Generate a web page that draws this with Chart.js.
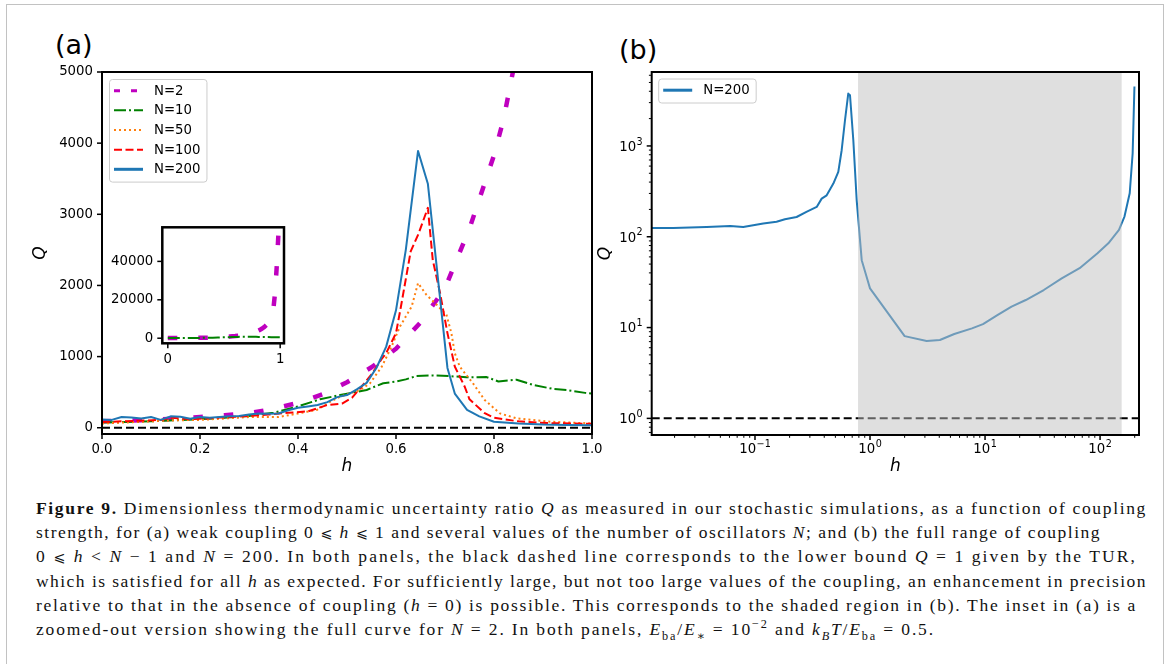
<!DOCTYPE html>
<html><head><meta charset="utf-8">
<script src="https://cdn.jsdelivr.net/npm/chart.js@4.4.1/dist/chart.umd.min.js"></script>
<style>
html,body{margin:0;padding:0;background:#fff;}
body{width:1167px;height:664px;position:relative;overflow:hidden;font-family:"DejaVu Sans",sans-serif;}
#frame{position:absolute;left:6px;top:4px;width:1158px;height:720px;box-sizing:border-box;border:1.5px solid #c2c2c2;}
canvas{position:absolute;}
.plab{position:absolute;font-family:"DejaVu Sans";font-size:27px;line-height:27px;color:#000;}
#cap{position:absolute;left:36px;top:496px;font-family:"Liberation Serif","DejaVu Serif",serif;font-size:17.5px;color:#111;}
.ln{position:absolute;left:0;white-space:nowrap;line-height:24.2px;height:24.2px;}
.ln sub,.ln sup{font-size:0.7em;line-height:0;}
.m{font-family:"DejaVu Sans";font-size:0.82em;}
</style></head>
<body>
<div id="frame"></div>
<div class="plab" style="left:55px;top:30.7px">(a)</div>
<div class="plab" style="left:619px;top:35.7px">(b)</div>
<canvas id="ca" width="590" height="430" style="left:30px;top:60px"></canvas>
<canvas id="cb" width="555" height="430" style="left:595px;top:60px"></canvas>
<canvas id="ci" width="200" height="160" style="left:95px;top:215px"></canvas>
<div id="cap">
<div class="ln" style="top:0px"><b>Figure 9.</b> Dimensionless thermodynamic uncertainty ratio <i>Q</i> as measured in our stochastic simulations, as a function of coupling</div>
<div class="ln" style="top:24.2px">strength, for (a) weak coupling 0 <span class="m">⩽</span> <i>h</i> <span class="m">⩽</span> 1 and several values of the number of oscillators <i>N</i>; and (b) the full range of coupling</div>
<div class="ln" style="top:48.4px">0 <span class="m">⩽</span> <i>h</i> &lt; <i>N</i> − 1 and <i>N</i> = 200. In both panels, the black dashed line corresponds to the lower bound <i>Q</i> = 1 given by the TUR,</div>
<div class="ln" style="top:72.6px">which is satisfied for all <i>h</i> as expected. For sufficiently large, but not too large values of the coupling, an enhancement in precision</div>
<div class="ln" style="top:96.8px">relative to that in the absence of coupling (<i>h</i> = 0) is possible. This corresponds to the shaded region in (b). The inset in (a) is a</div>
<div class="ln" style="top:121px">zoomed-out version showing the full curve for <i>N</i> = 2. In both panels, <i>E</i><sub>ba</sub>/<i>E</i><sub>∗</sub> = 10<sup>−2</sup> and <i>k<sub>B</sub>T</i>/<i>E</i><sub>ba</sub> = 0.5.</div>
</div>
<script>
// ---------------- data ----------------
// Panel (a): Q vs h, weak coupling
const hN2   = [0, 0.05, 0.1, 0.15, 0.2, 0.25, 0.3, 0.35, 0.4, 0.45, 0.5, 0.55, 0.6, 0.65, 0.7, 0.75, 0.8, 0.82, 0.84, 0.86, 0.88, 0.9, 0.92, 0.94, 0.955, 0.97, 0.985];
const qN2   = [90, 100, 110, 130, 150, 175, 205, 265, 350, 470, 640, 850, 1110, 1480, 1960, 2800, 3830, 4350, 5050, 5900, 7000, 8600, 11000, 15500, 24000, 38000, 55000];

const hN10  = [0, 0.05, 0.1, 0.15, 0.2, 0.25, 0.3, 0.35, 0.4, 0.445, 0.486, 0.54, 0.574, 0.6, 0.62, 0.642, 0.676, 0.71, 0.744, 0.785, 0.809, 0.846, 0.88, 0.921, 0.948, 0.986, 1.0];
const qN10  = [75, 80, 90, 105, 120, 140, 165, 210, 300, 400, 460, 531, 625, 650, 680, 728, 735, 725, 709, 712, 650, 675, 601, 545, 531, 490, 480];

const hN50  = [0, 0.05, 0.1, 0.15, 0.2, 0.25, 0.3, 0.36, 0.4, 0.418, 0.438, 0.466, 0.486, 0.527, 0.547, 0.571, 0.591, 0.608, 0.632, 0.645, 0.662, 0.683, 0.703, 0.713, 0.72, 0.73, 0.757, 0.781, 0.812, 0.846, 0.914, 1.0];
const qN50  = [60, 75, 90, 105, 110, 130, 150, 150, 200, 225, 249, 366, 437, 531, 625, 859, 1141, 1422, 1704, 2033, 1869, 1728, 1587, 1330, 1048, 860, 625, 390, 202, 132, 85, 60];

const hN100 = [0, 0.04, 0.08, 0.12, 0.14, 0.18, 0.22, 0.26, 0.3, 0.34, 0.38, 0.42, 0.46, 0.49, 0.51, 0.53, 0.55, 0.57, 0.58, 0.6, 0.61, 0.63, 0.645, 0.665, 0.675, 0.69, 0.705, 0.72, 0.74, 0.75, 0.78, 0.8, 0.85, 0.91, 1.0];
const qN100 = [80, 90, 100, 110, 140, 120, 135, 150, 165, 185, 210, 230, 320, 340, 420, 580, 750, 960, 1050, 1330, 1700, 2480, 2710, 3090, 2360, 1890, 1330, 860, 580, 400, 210, 140, 90, 65, 55];

const hN200 = [0, 0.02, 0.04, 0.06, 0.08, 0.1, 0.12, 0.14, 0.16, 0.18, 0.2, 0.22, 0.24, 0.26, 0.28, 0.3, 0.32, 0.34, 0.36, 0.38, 0.4, 0.42, 0.44, 0.46, 0.48, 0.5, 0.52, 0.54, 0.56, 0.58, 0.6, 0.62, 0.645, 0.665, 0.705, 0.72, 0.745, 0.77, 0.8, 0.85, 0.9, 0.95, 1.0];
const qN200 = [115, 110, 150, 145, 130, 150, 110, 160, 155, 125, 150, 140, 150, 160, 165, 185, 200, 195, 200, 245, 280, 300, 320, 360, 430, 460, 540, 630, 840, 1140, 1650, 2500, 3890, 3430, 840, 480, 250, 160, 85, 60, 45, 38, 35];

// Panel (b): N = 200, full range (log-log)
const hB = [0.0126, 0.0195, 0.038, 0.061, 0.079, 0.118, 0.154, 0.182, 0.23, 0.28, 0.344, 0.38, 0.42, 0.48, 0.53, 0.567, 0.606, 0.647, 0.67, 0.716, 0.766, 0.847, 0.935, 1.0, 2.0, 3.11, 4.05, 5.4, 7.7, 9.6, 12.8, 17, 22.6, 32.4, 46.4, 66.4, 95, 118, 146, 163, 181, 192, 199];
const qB = [125, 125, 128, 131, 128, 140, 146, 156, 165, 188, 213, 263, 286, 385, 517, 897, 1919, 3770, 3612, 1156, 252, 55.2, 36.1, 27, 8.05, 7.1, 7.3, 8.5, 9.8, 10.9, 13.7, 17, 20.1, 25.9, 34.8, 45, 65.8, 84.7, 119, 167, 301, 831, 4510];

// TUR lower bound Q = 1 (dashed black line)
const boundQ = [1, 1];
const boundHA = [0, 1];
const boundHB = [0.01265, 218];

// Shaded region in (b): enhancement in precision
const shadeRange = [0.787, 154];

// Axis ranges and ticks
const xRangeA = [0, 1],          yRangeA = [-88, 5000];
const xRangeI = [-0.049, 1.034], yRangeI = [-2650, 57750];
const xRangeB = [0.01265, 218],  yRangeB = [0.656, 6520];
const xTicksA = [0, 0.2, 0.4, 0.6, 0.8, 1.0];
const yTicksA = [0, 1000, 2000, 3000, 4000, 5000];
const xTicksI = [0, 1];
const yTicksI = [0, 20000, 40000];
const xMajorB = [0.01, 0.1, 1, 10, 100];
const yMajorB = [0.1, 1, 10, 100, 1000];
const expLabelsB = {'-1':'−1','0':'0','1':'1','2':'2','3':'3'};

// ---------------- helpers ----------------
const TF = 13.3; // tick / legend font size
Chart.defaults.font.family = '"DejaVu Sans"';
Chart.defaults.font.size = TF;
Chart.defaults.color = '#000';

function pts(hs, qs){ return hs.map((h,i)=>({x:h, y:qs[i]})); }
function ds(label, hs, qs, style){
  return Object.assign({label, data: pts(hs,qs), pointRadius:0, pointHoverRadius:0, tension:0, fill:false,
    borderCapStyle:'butt', borderJoinStyle:'round'}, style);
}
function logTicks(majors, lo, hi){
  const out = [];
  majors.forEach(m => {
    for (let k=1;k<10;k++){
      const v = +(m*k).toPrecision(6);
      if (v>=lo && v<=hi) out.push({value:v, minor:k!==1});
    }
  });
  return out;
}
function expOf(v){
  const e = Math.round(Math.log10(v));
  if (Math.abs(v - Math.pow(10,e)) > 1e-9*Math.pow(10,e)) return null;
  return expLabelsB[String(e)] || null;
}

// draws "10" with a raised exponent (matplotlib mathtext style)
function drawPow(ctx, exp, x, yMid, align){
  ctx.font = TF + 'px "DejaVu Sans"';
  const wb = ctx.measureText('10').width;
  ctx.font = '9.6px "DejaVu Sans"';
  const we = ctx.measureText(exp).width;
  const total = wb + we + 0.5;
  let x0 = align === 'center' ? x - total/2 : x - total;
  ctx.textBaseline = 'alphabetic'; ctx.textAlign = 'left'; ctx.fillStyle = '#000';
  ctx.font = TF + 'px "DejaVu Sans"';
  ctx.fillText('10', x0, yMid + 4.8);
  ctx.font = '9.6px "DejaVu Sans"';
  ctx.fillText(exp, x0 + wb + 0.5, yMid - 1.3);
}

const framePlugin = {
  id:'mplFrame',
  beforeDatasetsDraw(chart, args, o){
    if (!o.bg) return;
    const ca = chart.chartArea, ctx = chart.ctx;
    ctx.save(); ctx.fillStyle='#fff'; ctx.fillRect(ca.left, ca.top, ca.right-ca.left, ca.bottom-ca.top); ctx.restore();
  },
  afterDatasetsDraw(chart, args, o){
    const ctx = chart.ctx, ca = chart.chartArea, xs = chart.scales.x, ys = chart.scales.y;
    ctx.save();
    if (o.shade){
      const a = xs.getPixelForValue(o.shade[0]), b = xs.getPixelForValue(o.shade[1]);
      ctx.fillStyle = 'rgba(192,192,192,0.5)';
      ctx.fillRect(a, ca.top, b-a, ca.bottom-ca.top);
    }
    ctx.setLineDash([]);
    ctx.strokeStyle = '#000';
    ctx.lineWidth = o.lw;
    ctx.strokeRect(ca.left, ca.top, ca.right-ca.left, ca.bottom-ca.top);
    xs.ticks.forEach(t => {
      const p = xs.getPixelForValue(t.value);
      if (p < ca.left-1 || p > ca.right+1) return;
      ctx.lineWidth = t.minor ? 1 : 1.5;
      ctx.beginPath(); ctx.moveTo(p, ca.bottom); ctx.lineTo(p, ca.bottom + (t.minor ? 2.8 : 5)); ctx.stroke();
      if (o.powLabels && !t.minor){ const e = expOf(t.value); if (e !== null) drawPow(ctx, e, p, ca.bottom + 13, 'center'); }
    });
    ys.ticks.forEach(t => {
      const p = ys.getPixelForValue(t.value);
      if (p < ca.top-1 || p > ca.bottom+1) return;
      ctx.lineWidth = t.minor ? 1 : 1.5;
      ctx.beginPath(); ctx.moveTo(ca.left, p); ctx.lineTo(ca.left - (t.minor ? 2.8 : 5), p); ctx.stroke();
      if (o.powLabels && !t.minor){ const e = expOf(t.value); if (e !== null) drawPow(ctx, e, ca.left - 9, p, 'right'); }
    });
    ctx.restore();
  }
};

const legendPlugin = {
  id:'mplLegend',
  afterDraw(chart, args, o){
    if (!o.show) return;
    const items = chart.data.datasets.filter(d => d.label && d.label[0] !== '_');
    const ctx = chart.ctx, ca = chart.chartArea;
    ctx.save();
    ctx.font = TF + 'px "DejaVu Sans"';
    const maxW = Math.max(...items.map(d => ctx.measureText(d.label).width));
    const x0 = ca.left + o.dx, y0 = ca.top + o.dy;
    const w = 45 + maxW + 6, h = 11.7 + 19.65*(items.length-1) + 12.3;
    ctx.beginPath();
    ctx.roundRect(x0+0.5, y0+0.5, w, h, 3);
    ctx.fillStyle = 'rgba(255,255,255,0.8)'; ctx.fill();
    ctx.strokeStyle = '#cccccc'; ctx.lineWidth = 1; ctx.stroke();
    items.forEach((d,i) => {
      const yy = y0 + 11.7 + 19.65*i;
      ctx.beginPath();
      ctx.setLineDash(d.legendDash || d.borderDash || []);
      ctx.lineWidth = d.legendWidth || d.borderWidth;
      ctx.strokeStyle = d.borderColor; ctx.lineCap = 'butt';
      ctx.moveTo(x0+5, yy); ctx.lineTo(x0+34, yy); ctx.stroke();
      ctx.setLineDash([]);
      ctx.fillStyle = '#000'; ctx.textBaseline = 'middle'; ctx.textAlign = 'left';
      ctx.fillText(d.label, x0+45, yy+0.5);
    });
    ctx.restore();
  }
};

function axis(type, range, ticksFn, labelFn, fitFn, title, pad){
  return {
    type, min: range[0], max: range[1],
    grid:{display:false, drawTicks:false}, border:{display:false},
    ticks:{padding:pad, autoSkip:false, maxRotation:0, minRotation:0, color:'#000', font:{size:TF}, callback: labelFn},
    afterBuildTicks: s => { s.ticks = ticksFn(); },
    afterFit: fitFn,
    title: title
  };
}
function yfit(w){ return s => { s.width = w; s.paddingTop = 0; s.paddingBottom = 0; }; }
function xfit(h){ return s => { s.height = h; s.paddingLeft = 0; s.paddingRight = 0; }; }
const titleFont = {family:'"DejaVu Sans"', style:'italic', size:17};

const common = {responsive:false, animation:false, devicePixelRatio:1, events:[]};

// ---------------- panel (a) ----------------
new Chart(document.getElementById('ca'), {
  type:'line',
  data:{datasets:[
    ds('N=2',   hN2,   qN2,   {borderColor:'#bf00bf', borderWidth:4.5, borderDash:[9.5,21], order:5, legendDash:[6,11], legendWidth:3}),
    ds('N=10',  hN10,  qN10,  {borderColor:'#008000', borderWidth:2, borderDash:[12,3,2,3], order:4}),
    ds('N=50',  hN50,  qN50,  {borderColor:'#ff7f0e', borderWidth:2, borderDash:[2,3], order:3}),
    ds('N=100', hN100, qN100, {borderColor:'#ff0000', borderWidth:2, borderDash:[8,3.5], order:2}),
    ds('N=200', hN200, qN200, {borderColor:'#1f77b4', borderWidth:2, order:1, legendWidth:3}),
    ds('_bound', boundHA, boundQ, {borderColor:'#000', borderWidth:2, borderDash:[8,4], order:6})
  ]},
  options:Object.assign({}, common, {
    layout:{padding:{top:12, right:28, left:0, bottom:0}},
    scales:{
      x: axis('linear', xRangeA, () => xTicksA.map(v=>({value:v})), v => v.toFixed(1), xfit(56),
              {display:true, text:'h', font:titleFont, color:'#000', padding:{top:0, bottom:12.8}}, 8),
      y: axis('linear', yRangeA, () => yTicksA.map(v=>({value:v})), v => String(v), yfit(72),
              {display:true, text:'Q', font:titleFont, color:'#000', padding:{top:0, bottom:0}}, 9)
    },
    plugins:{legend:{display:false}, tooltip:{enabled:false},
      mplFrame:{lw:2}, mplLegend:{show:true, dx:7, dy:7}}
  }),
  plugins:[framePlugin, legendPlugin]
});

// ---------------- inset of (a) ----------------
new Chart(document.getElementById('ci'), {
  type:'line',
  data:{datasets:[
    ds('N=2',  hN2,  qN2,  {borderColor:'#bf00bf', borderWidth:4.5, borderDash:[9.5,21], order:2}),
    ds('N=10', hN10, qN10, {borderColor:'#008000', borderWidth:2, borderDash:[12,3,2,3], order:1})
  ]},
  options:Object.assign({}, common, {
    layout:{padding:{top:12.3, right:11, left:0, bottom:0}},
    scales:{
      x: axis('linear', xRangeI, () => xTicksI.map(v=>({value:v})), v => String(v), xfit(31.7), {display:false}, 8),
      y: axis('linear', yRangeI, () => yTicksI.map(v=>({value:v})), v => String(v), yfit(67.3), {display:false}, 9)
    },
    plugins:{legend:{display:false}, tooltip:{enabled:false},
      mplFrame:{lw:2.5, bg:true}, mplLegend:{show:false}}
  }),
  plugins:[framePlugin, legendPlugin]
});

// ---------------- panel (b) ----------------
new Chart(document.getElementById('cb'), {
  type:'line',
  data:{datasets:[
    ds('N=200', hB, qB, {borderColor:'#1f77b4', borderWidth:2, order:1, legendWidth:3}),
    ds('_bound', boundHB, boundQ, {borderColor:'#000', borderWidth:2, borderDash:[8,4], order:2})
  ]},
  options:Object.assign({}, common, {
    layout:{padding:{top:12, right:11, left:0, bottom:0}},
    scales:{
      x: axis('logarithmic', xRangeB, () => logTicks(xMajorB, xRangeB[0], xRangeB[1]), () => '', xfit(55),
              {display:true, text:'h', font:titleFont, color:'#000', padding:{top:0, bottom:12.8}}, 7),
      y: axis('logarithmic', yRangeB, () => logTicks(yMajorB, yRangeB[0], yRangeB[1]), () => '', yfit(56.7),
              {display:true, text:'Q', font:titleFont, color:'#000', padding:{top:0, bottom:0}}, 9)
    },
    plugins:{legend:{display:false}, tooltip:{enabled:false},
      mplFrame:{lw:2, shade:shadeRange, powLabels:true}, mplLegend:{show:true, dx:6.5, dy:6.5}}
  }),
  plugins:[framePlugin, legendPlugin]
});

// ---------------- caption line fitting ----------------
const capTargets = [1111, 1065, 1101, 1111, 1101, 899];
document.querySelectorAll('.ln').forEach((el,i) => {
  const w = el.getBoundingClientRect().width;
  const n = el.textContent.length;
  el.style.letterSpacing = ((capTargets[i] - w) / n) + 'px';
});
</script>
</body></html>
